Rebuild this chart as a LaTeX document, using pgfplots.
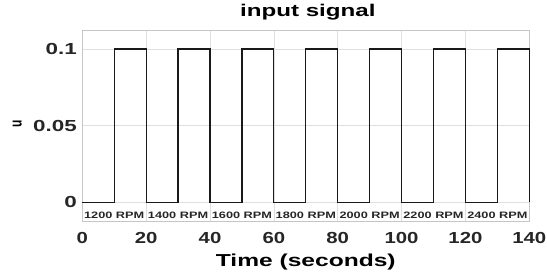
\documentclass[border=0pt]{standalone}
\usepackage{fontspec}
\usepackage{graphicx}
\setmainfont[FakeStretch=1.4]{Liberation Sans}
\newfontfamily\fA[FakeStretch=1.42]{Liberation Sans}
\newfontfamily\fY[FakeStretch=1.4]{Liberation Sans}
\newfontfamily\fX[FakeStretch=1.27]{Liberation Sans}
\newfontfamily\fR[FakeStretch=1.37]{Liberation Sans}
\newfontfamily\plainsans{Liberation Sans}
\usepackage{pgfplots}
\pgfplotsset{compat=1.18}
\begin{document}
\begin{tikzpicture}
\begin{axis}[
  name=ax,
  scale only axis,
  width=447pt, height=191.7pt,
  xmin=0, xmax=140, ymin=-0.01266, ymax=0.1124,
  xtick={0,20,...,140},
  ytick={0,0.05,0.1},
  yticklabels={0,0.05,0.1},
  /pgf/number format/assume math mode=true,
  major tick length=0pt,
  grid=major,
  major grid style={gray!25, line width=0.5pt},
  axis line style={gray!45, line width=0.6pt},
  xticklabel style={font=\fX\bfseries\fontsize{16}{18}\selectfont, text=black!85, anchor=base, inner sep=0pt, yshift=-21.8pt},
  yticklabel style={font=\fY\bfseries\fontsize{16}{18}\selectfont, text=black!85, anchor=east, inner sep=0pt, xshift=-5.3pt},
  title={input signal},
  title style={font=\fA\bfseries\fontsize{17}{19}\selectfont, at={(axis description cs:0.5,1.0402)}, anchor=base, inner sep=0pt, xshift=2pt},
  xlabel={Time (seconds)},
  xlabel style={font=\fA\bfseries\fontsize{17.3}{19}\selectfont, at={(axis description cs:0.5,-0.2347)}, anchor=base, inner sep=0pt},
  ylabel={\scalebox{1.4}[1]{\rotatebox{90}{u}}},
  every axis y label/.style={font=\plainsans\bfseries\fontsize{12}{14}\selectfont, at={(axis description cs:-0.1456,0.5097)}, anchor=center, inner sep=0pt},
  clip=false,
]
\addplot[black!90, line width=1.25pt] coordinates {
(0,0) (10,0) (10,0.1) (20,0.1) (20,0) (30,0) (30,0.1) (40,0.1) (40,0)
(50,0) (50,0.1) (60,0.1) (60,0) (70,0) (70,0.1) (80,0.1) (80,0)
(90,0) (90,0.1) (100,0.1) (100,0) (110,0) (110,0.1) (120,0.1) (120,0)
(130,0) (130,0.1) (140,0.1) (140,0)
};
\foreach \xx/\rpm in {10/1200,30/1400,50/1600,70/1800,90/2000,110/2200,130/2400}{
  \edef\tmp{\noexpand\node[anchor=base, inner sep=0pt, font=\noexpand\fR\noexpand\bfseries\noexpand\fontsize{9.3}{11}\noexpand\selectfont, text=black!85] at (axis cs:\xx,-0.01044) {\rpm{} RPM};}
  \tmp
}
\end{axis}
\pgfresetboundingbox
\path[use as bounding box] ([xshift=-82.3pt,yshift=-53.3pt]ax.south west) rectangle ([xshift=17.7pt,yshift=30pt]ax.north east);
\end{tikzpicture}
\end{document}
